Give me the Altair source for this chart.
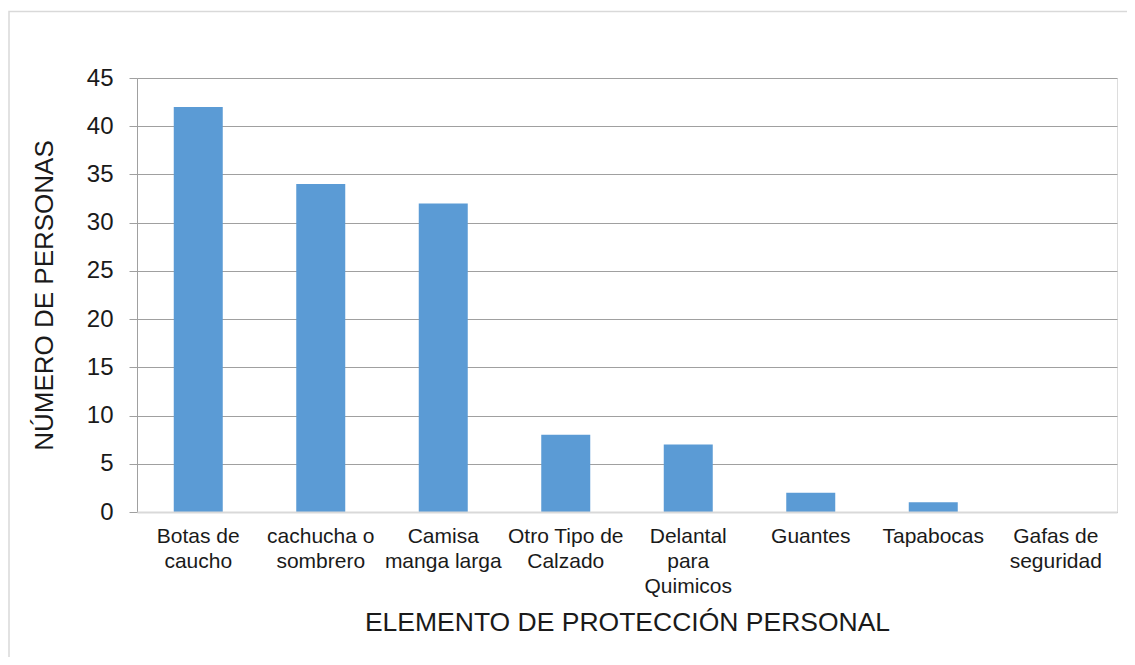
import altair as alt
import pandas as pd

categories = [
    "Botas de\ncaucho",
    "cachucha o\nsombrero",
    "Camisa\nmanga larga",
    "Otro Tipo de\nCalzado",
    "Delantal\npara\nQuimicos",
    "Guantes",
    "Tapabocas",
    "Gafas de\nseguridad",
]
values = [42, 34, 32, 8, 7, 2, 1, 0]

df = pd.DataFrame({"cat": categories, "val": values})

FONT = "Liberation Sans"

frame = alt.Chart(pd.DataFrame({"a": [0]})).mark_rect(
    fillOpacity=0, stroke="#d9d9d9", strokeWidth=1.5, clip=False
).encode(
    x=alt.value(-128), x2=alt.value(1010),
    y=alt.value(-66.5), y2=alt.value(620),
)

bars = alt.Chart(df).mark_bar(color="#5B9BD5").encode(
    x=alt.X(
        "cat:N",
        sort=categories,
        scale=alt.Scale(paddingInner=0.6, paddingOuter=0.3),
        axis=alt.Axis(
            title="ELEMENTO DE PROTECCIÓN PERSONAL",
            labelExpr="split(datum.label, '\\n')",
            labelAngle=0,
            labelFontSize=21,
            labelLineHeight=25,
            labelPadding=13,
            labelColor="#1a1a1a",
            labelFont=FONT,
            ticks=False,
            domainColor="#d9d9d9",
            domainWidth=2,
            titleFont=FONT,
            titleFontSize=26.5,
            titleFontWeight="normal",
            titleColor="#1a1a1a",
            titlePadding=13,
            grid=False,
            zindex=1,
        ),
    ),
    y=alt.Y(
        "val:Q",
        scale=alt.Scale(domain=[0, 45], nice=False),
        axis=alt.Axis(
            title="NÚMERO DE PERSONAS",
            values=list(range(0, 46, 5)),
            labelFontSize=24,
            labelFont=FONT,
            labelColor="#1a1a1a",
            labelPadding=16,
            tickSize=8,
            tickColor="#a0a0a0",
            domainColor="#a0a0a0",
            gridColor="#a0a0a0",
            grid=True,
            titleFont=FONT,
            titleFontSize=26,
            titleFontWeight="normal",
            titleColor="#1a1a1a",
            titlePadding=29,
        ),
    ),
)

chart = alt.layer(frame, bars).properties(
    width=980,
    height=434,
    autosize=alt.AutoSizeParams(type="none"),
    padding={"left": 129, "top": 70, "right": 10, "bottom": 145},
).configure_view(stroke=None).configure(background="white")

chart.save("out.html", embed_options={"renderer": "svg", "actions": False})
